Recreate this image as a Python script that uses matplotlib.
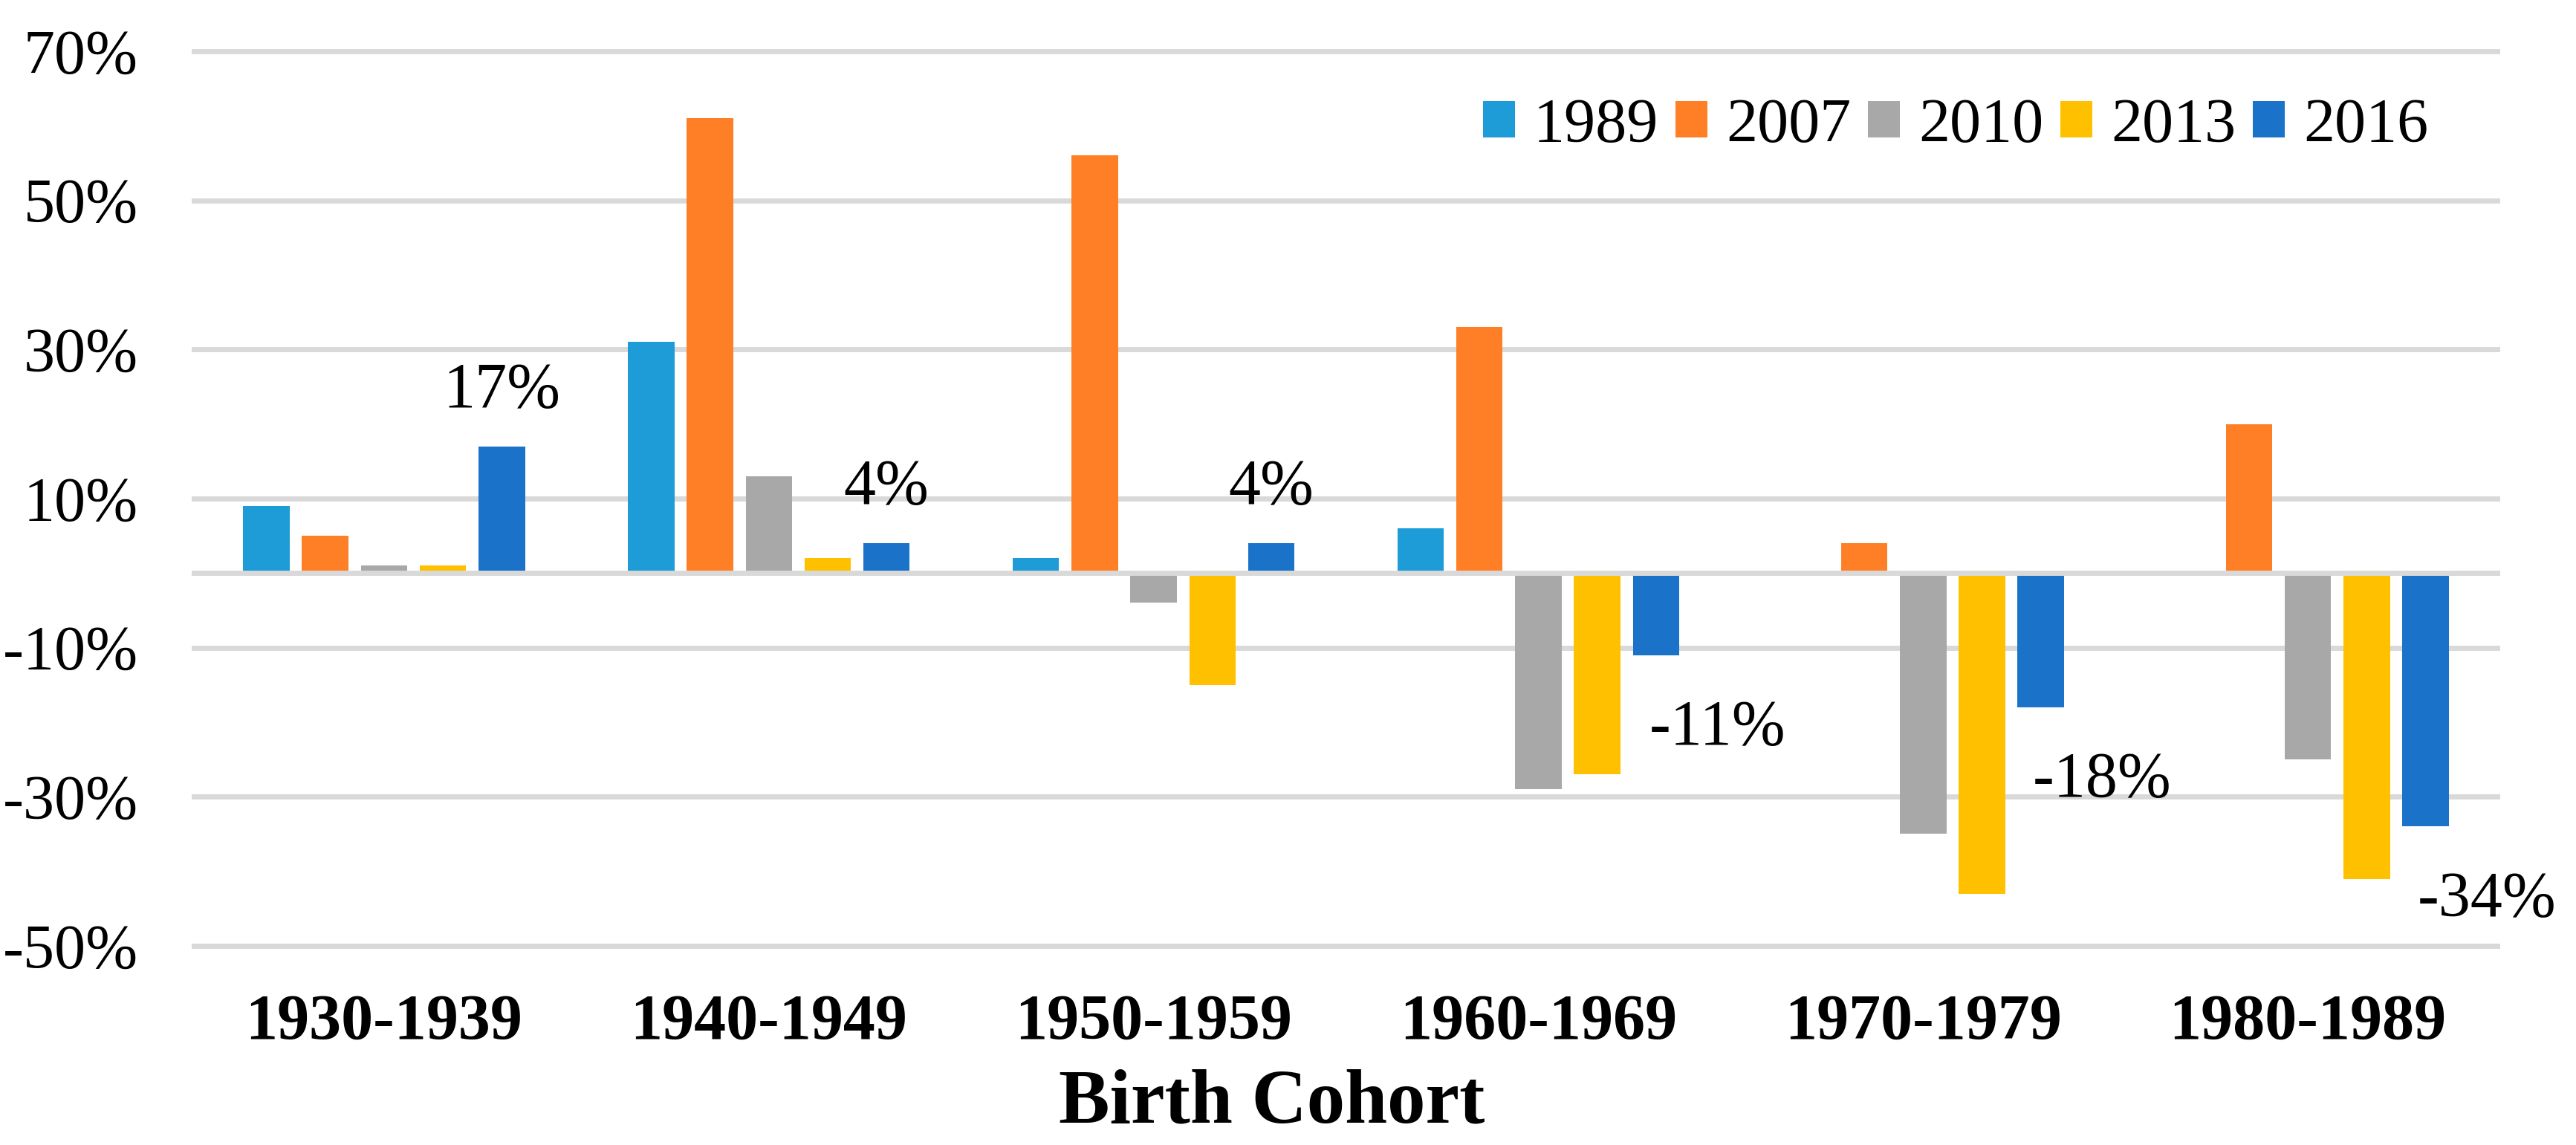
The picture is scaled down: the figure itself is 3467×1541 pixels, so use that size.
import matplotlib
matplotlib.use("Agg")
import matplotlib.pyplot as plt
import matplotlib.transforms as mtransforms
import numpy as np

# data (percent change)
cohorts = ["1930-1939", "1940-1949", "1950-1959", "1960-1969", "1970-1979", "1980-1989"]
years = ["1989", "2007", "2010", "2013", "2016"]
v1989 = [9, 31, 2, 6, 0, 0]
v2007 = [5, 61, 56, 33, 4, 20]
v2010 = [1, 13, -4, -29, -35, -25]
v2013 = [1, 2, -15, -27, -43, -41]
v2016 = [17, 4, 4, -11, -18, -34]
yticks = [70, 50, 30, 10, -10, -30, -50]

series = [v1989, v2007, v2010, v2013, v2016]
colors = ["#1E9CD8", "#FF7F27", "#A8A8A8", "#FFC000", "#1A73C8"]

plt.rcParams["font.family"] = ["Liberation Serif", "DejaVu Serif"]

fig = plt.figure(figsize=(34.67, 15.41), dpi=100)
ax = fig.add_axes([0.07442, 0.17067, 0.89616, 0.7878])

x = np.arange(len(cohorts))
step = 0.153
width = 0.1207
bars = []
for j, vals in enumerate(series):
    b = ax.bar(x + (j - 2) * step, vals, width, color=colors[j], linewidth=0,
               zorder=2, label=years[j])
    bars.append(b)

# data labels on the 2016 series
for i, v in enumerate(v2016):
    xb = x[i] + 2 * step
    if v >= 0:
        ax.text(xb, v + 8.3, "%d%%" % v, ha="center", va="center_baseline",
                fontsize=62, zorder=4)
    else:
        ax.text(xb + 0.16, v - 9, "%d%%" % v, ha="center", va="center_baseline",
                fontsize=62, zorder=4, clip_on=False)

ax.set_xlim(-0.5, len(cohorts) - 0.5)
ax.set_ylim(-50.5, 70.5)
ax.set_yticks(yticks)
ax.set_yticklabels(["%d%%" % t for t in yticks], fontsize=60.5)
for lbl in ax.get_yticklabels():
    lbl.set_va("center_baseline")
ax.tick_params(axis="y", length=0, pad=52)
ax.set_xticks([])
ax.yaxis.grid(True, color="#D9D9D9", linewidth=5, zorder=0)
ax.set_axisbelow(True)
ax.axhline(0, color="#D9D9D9", linewidth=5, zorder=3)
for s in ax.spines.values():
    s.set_visible(False)

# category labels under the axis
trans = mtransforms.blended_transform_factory(ax.transData, fig.transFigure)
for i, c in enumerate(cohorts):
    ax.text(x[i], 0.0928, c, transform=trans, ha="center", va="baseline",
            fontsize=62, fontweight="bold", clip_on=False)

fig.text(0.4938, 0.0201, "Birth Cohort", ha="center", va="baseline",
         fontsize=74, fontweight="bold")

fig.legend(handles=bars, labels=years, ncol=5, frameon=False,
           loc="center left", bbox_to_anchor=(1996 / 3467, 1 - 170 / 1541),
           fontsize=60.5, handlelength=0.51, handleheight=0.51,
           handletextpad=0.3, columnspacing=0.27, borderpad=0, borderaxespad=0)

fig.savefig("out.png", dpi=100)
